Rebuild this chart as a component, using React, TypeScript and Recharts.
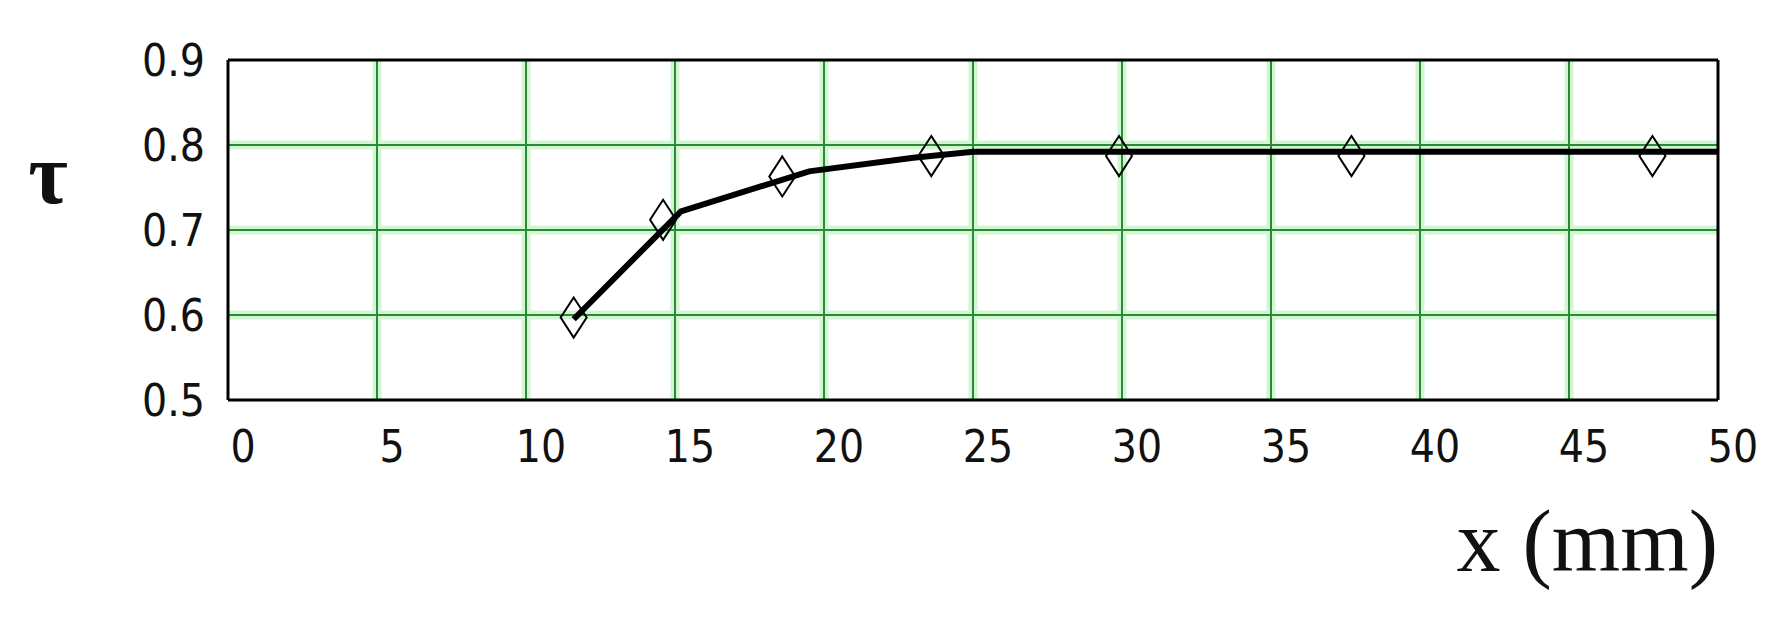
import React from 'react';
import { ComposedChart, Line, Scatter, XAxis, YAxis, CartesianGrid, ReferenceLine } from 'recharts';

// measured points (diamonds)
const pointX = [11.6, 14.6, 18.6, 23.6, 29.9, 37.7, 47.8];
const pointTau = [0.597, 0.712, 0.763, 0.787, 0.787, 0.787, 0.787];

// fitted curve (thick line)
const curveX = [11.6, 15.2, 19.5, 23, 25, 50];
const curveTau = [0.595, 0.722, 0.769, 0.785, 0.792, 0.792];

const xTicks = [0, 5, 10, 15, 20, 25, 30, 35, 40, 45, 50];
const yTicks = [0.5, 0.6, 0.7, 0.8, 0.9];
const xGrid = [5, 10, 15, 20, 25, 30, 35, 40, 45];
const yGrid = [0.6, 0.7, 0.8];

const points = pointX.map((x, i) => ({ x, tau: pointTau[i] }));
const curve = curveX.map((x, i) => ({ x, tau: curveTau[i] }));

const W = 1790;
const H = 621;
const tickFont = { fontFamily: '"DejaVu Sans Condensed", "DejaVu Sans", sans-serif', fontSize: 44, fill: '#111' };
const border = { stroke: '#000', strokeWidth: 3 };

const Diamond = (props: any) => {
  const { cx, cy } = props;
  if (cx == null || cy == null) return null;
  const w = 13;
  const h = 20;
  return (
    <path
      d={`M${cx},${cy - h} L${cx + w},${cy} L${cx},${cy + h} L${cx - w},${cy} Z`}
      fill="none"
      stroke="#000"
      strokeWidth={2}
    />
  );
};

export default function App() {
  return (
    <div style={{ position: 'relative', width: W, height: H, background: '#fff' }}>
      <style>{'body{margin:0}'}</style>
      <ComposedChart width={W} height={H} margin={{ top: 60, right: 72, bottom: 141, left: 0 }}>
        <CartesianGrid stroke="#d2f5d2" strokeWidth={9} horizontalValues={yGrid} verticalValues={xGrid} />
        <CartesianGrid stroke="#2a8a35" strokeWidth={2} horizontalValues={yGrid} verticalValues={xGrid} />
        <XAxis
          type="number"
          dataKey="x"
          domain={[0, 50]}
          ticks={xTicks}
          allowDataOverflow
          height={80}
          tickLine={false}
          tickSize={0}
          tickMargin={31}
          axisLine={border}
          tick={{ ...tickFont, dx: 15 }}
        />
        <YAxis
          type="number"
          dataKey="tau"
          domain={[0.5, 0.9]}
          ticks={yTicks}
          allowDataOverflow
          width={228}
          tickLine={false}
          tickSize={0}
          tickMargin={23}
          axisLine={border}
          tick={tickFont}
          tickFormatter={(v: number) => v.toFixed(1)}
        />
        <ReferenceLine y={0.9} {...border} />
        <ReferenceLine x={50} {...border} />
        <Line
          data={curve}
          dataKey="tau"
          type="linear"
          stroke="#000"
          strokeWidth={6}
          dot={false}
          activeDot={false}
          isAnimationActive={false}
        />
        <Scatter data={points} dataKey="tau" shape={Diamond} isAnimationActive={false} />
      </ComposedChart>
      <svg width={W} height={H} style={{ position: 'absolute', left: 0, top: 0, pointerEvents: 'none' }}>
        <text x={48} y={203} textAnchor="middle" fontFamily='"Liberation Serif", serif' fontSize={86} fontWeight="bold" fill="#111">
          τ
        </text>
        <text x={1718} y={571} textAnchor="end" fontFamily='"Liberation Serif", serif' fontSize={88} fill="#111">
          x (mm)
        </text>
      </svg>
    </div>
  );
}
